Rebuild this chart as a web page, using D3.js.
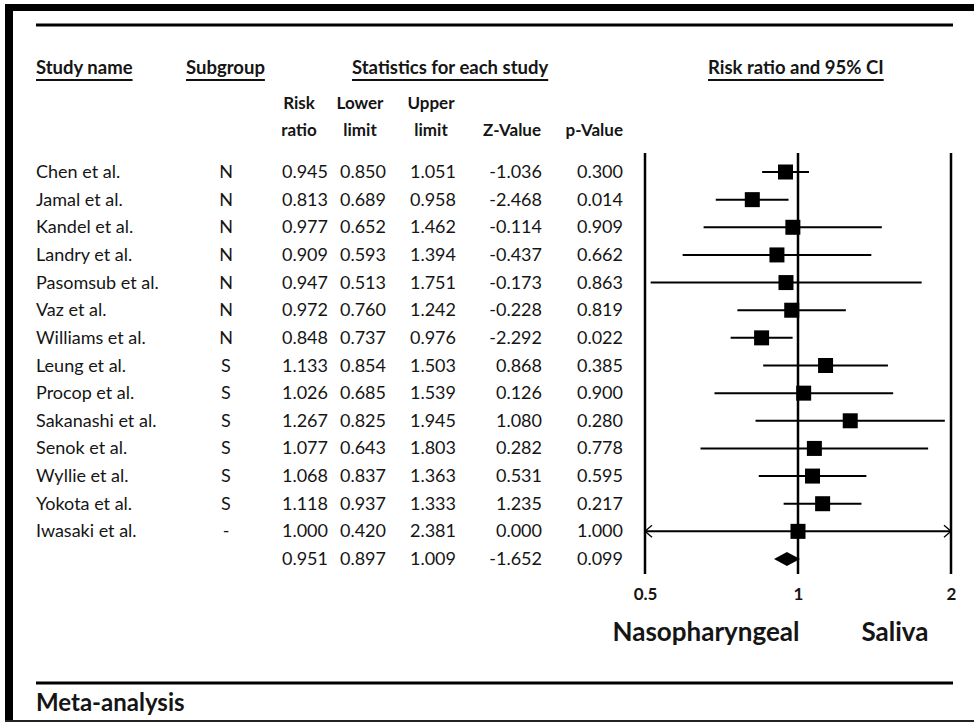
<!doctype html>
<html lang="en">
  <head>
    <meta charset="utf-8" />
    <title>Meta-analysis forest plot</title>
    <style>
      body { margin: 0; background: #fff; }
      text { font-family: Lato, "Open Sans", sans-serif; fill: #151515; }
    </style>
  </head>
  <body>
    <div id="chart"></div>
    <script src="https://d3js.org/d3.v7.min.js"></script>
    <script>
// data
var studies = ["Chen et al.", "Jamal et al.", "Kandel et al.", "Landry et al.", "Pasomsub et al.",
  "Vaz et al.", "Williams et al.", "Leung et al.", "Procop et al.", "Sakanashi et al.",
  "Senok et al.", "Wyllie et al.", "Yokota et al.", "Iwasaki et al."];
var subgroups = ["N", "N", "N", "N", "N", "N", "N", "S", "S", "S", "S", "S", "S", "-"];
var riskRatio = [0.945, 0.813, 0.977, 0.909, 0.947, 0.972, 0.848, 1.133, 1.026, 1.267, 1.077, 1.068, 1.118, 1.000];
var lowerLimit = [0.850, 0.689, 0.652, 0.593, 0.513, 0.760, 0.737, 0.854, 0.685, 0.825, 0.643, 0.837, 0.937, 0.420];
var upperLimit = [1.051, 0.958, 1.462, 1.394, 1.751, 1.242, 0.976, 1.503, 1.539, 1.945, 1.803, 1.363, 1.333, 2.381];
var zValue = [-1.036, -2.468, -0.114, -0.437, -0.173, -0.228, -2.292, 0.868, 0.126, 1.080, 0.282, 0.531, 1.235, 0.000];
var pValue = [0.300, 0.014, 0.909, 0.662, 0.863, 0.819, 0.022, 0.385, 0.900, 0.280, 0.778, 0.595, 0.217, 1.000];
// pooled estimate
var summary = {rr: 0.951, lower: 0.897, upper: 1.009, z: -1.652, p: 0.099};
var axisTicks = [0.5, 1, 2];

var width = 974, height = 723;
var svg = d3.select("#chart").append("svg")
  .attr("width", width)
  .attr("height", height);

// plain hyphen minus like the original table
var fmt = function(v) { return v.toFixed(3); };

// frame
svg.append("rect").attr("x", 5).attr("y", 4).attr("width", width - 5).attr("height", 7).attr("fill", "#000");
svg.append("rect").attr("x", 5).attr("y", 4).attr("width", 8).attr("height", 717).attr("fill", "#000");
svg.append("rect").attr("x", 5).attr("y", 720).attr("width", width - 5).attr("height", 2).attr("fill", "#222");

// horizontal rules
svg.append("line").attr("x1", 36).attr("x2", 953).attr("y1", 25).attr("y2", 25)
  .attr("stroke", "#000").attr("stroke-width", 3);
svg.append("line").attr("x1", 36).attr("x2", 953).attr("y1", 683).attr("y2", 683)
  .attr("stroke", "#000").attr("stroke-width", 3);

// scales
var x = d3.scaleLog().domain([0.5, 2]).range([645, 951]);
var y = d3.scalePoint().domain(d3.range(studies.length + 1)).range([172, 559]);

// column headers
var headers = [
  {t: "Study name", x: 36},
  {t: "Subgroup", x: 186},
  {t: "Statistics for each study", x: 352},
  {t: "Risk ratio and 95% CI", x: 708}
];
headers.forEach(function(h) {
  var t = svg.append("text")
    .attr("x", h.x).attr("y", 74)
    .attr("font-size", "18.5px").attr("font-weight", "bold")
    .text(h.t);
  var w = t.node().getComputedTextLength();
  svg.append("line").attr("x1", h.x).attr("x2", h.x + w).attr("y1", 80).attr("y2", 80)
    .attr("stroke", "#111").attr("stroke-width", 1.8);
});

// sub headers
var colRight = [328, 386, 456, 542, 623];
var subX = [299, 360, 431, 512, 623];
var subAnchor = ["middle", "middle", "middle", "middle", "end"];
var sub1 = ["Risk", "Lower", "Upper", "", ""];
var sub2 = ["ratio", "limit", "limit", "Z-Value", "p-Value"];
subX.forEach(function(cx, i) {
  svg.append("text").attr("x", cx).attr("y", 109).attr("text-anchor", subAnchor[i])
    .attr("font-size", "17px").attr("font-weight", "bold").text(sub1[i]);
  svg.append("text").attr("x", cx).attr("y", 136).attr("text-anchor", subAnchor[i])
    .attr("font-size", "17px").attr("font-weight", "bold").text(sub2[i]);
});

// table rows
var rows = studies.map(function(s, i) {
  return {name: s, sub: subgroups[i], rr: riskRatio[i], lo: lowerLimit[i], hi: upperLimit[i], z: zValue[i], p: pValue[i], i: i};
});
var summaryRow = {name: "", sub: "", rr: summary.rr, lo: summary.lower, hi: summary.upper, z: summary.z, p: summary.p, i: studies.length};
var allRows = rows.concat([summaryRow]);

var rowG = svg.selectAll(".row").data(allRows).enter().append("g")
  .attr("transform", function(d) { return "translate(0," + (y(d.i) + 6) + ")"; });

rowG.append("text").attr("x", 36).attr("font-size", "18px").text(function(d) { return d.name; });
rowG.append("text").attr("x", 226).attr("text-anchor", "middle").attr("font-size", "18px").text(function(d) { return d.sub; });
["rr", "lo", "hi", "z", "p"].forEach(function(k, j) {
  rowG.append("text").attr("x", colRight[j]).attr("text-anchor", "end").attr("font-size", "18px")
    .text(function(d) { return fmt(d[k]); });
});

// forest plot vertical lines
svg.selectAll(".vline").data(axisTicks).enter().append("line")
  .attr("x1", function(d) { return x(d); }).attr("x2", function(d) { return x(d); })
  .attr("y1", 153).attr("y2", 574)
  .attr("stroke", "#000").attr("stroke-width", 2.5);

// confidence intervals
var clampLo = function(v) { return Math.max(v, x.domain()[0]); };
var clampHi = function(v) { return Math.min(v, x.domain()[1]); };
svg.selectAll(".ci").data(rows).enter().append("line")
  .attr("x1", function(d) { return x(clampLo(d.lo)); })
  .attr("x2", function(d) { return x(clampHi(d.hi)); })
  .attr("y1", function(d) { return y(d.i); }).attr("y2", function(d) { return y(d.i); })
  .attr("stroke", "#000").attr("stroke-width", 2);

// arrows for truncated intervals
rows.forEach(function(d) {
  var yy = y(d.i);
  if (d.lo < x.domain()[0]) {
    var x0 = x(x.domain()[0]);
    svg.append("path").attr("d", "M" + (x0 + 7) + "," + (yy - 6) + "L" + x0 + "," + yy + "L" + (x0 + 7) + "," + (yy + 6))
      .attr("fill", "none").attr("stroke", "#000").attr("stroke-width", 1.3);
  }
  if (d.hi > x.domain()[1]) {
    var x1 = x(x.domain()[1]);
    svg.append("path").attr("d", "M" + (x1 - 7) + "," + (yy - 6) + "L" + x1 + "," + yy + "L" + (x1 - 7) + "," + (yy + 6))
      .attr("fill", "none").attr("stroke", "#000").attr("stroke-width", 1.3);
  }
});

// point estimates
var sq = 15;
svg.selectAll(".pt").data(rows).enter().append("rect")
  .attr("x", function(d) { return x(d.rr) - sq / 2; })
  .attr("y", function(d) { return y(d.i) - sq / 2; })
  .attr("width", sq).attr("height", sq)
  .attr("fill", "#000");

// summary diamond
var ys = y(summaryRow.i);
svg.append("path")
  .attr("d", "M" + x(summary.lower) + "," + ys + "L" + x(summary.rr) + "," + (ys - 7) +
    "L" + x(summary.upper) + "," + ys + "L" + x(summary.rr) + "," + (ys + 7) + "Z")
  .attr("fill", "#000");

// axis labels
var axis = d3.axisBottom(x).tickValues(axisTicks).tickFormat(d3.format("")).tickSize(0);
var ax = svg.append("g").attr("transform", "translate(0,585)").call(axis);
ax.select(".domain").remove();
ax.selectAll("text").attr("font-size", "17px").attr("font-weight", "bold")
  .style("font-family", "Lato, 'Open Sans', sans-serif").attr("fill", "#151515");

svg.append("text").attr("x", 706).attr("y", 641).attr("text-anchor", "middle")
  .attr("font-size", "26px").attr("font-weight", "bold").text("Nasopharyngeal");
svg.append("text").attr("x", 895).attr("y", 641).attr("text-anchor", "middle")
  .attr("font-size", "26px").attr("font-weight", "bold").text("Saliva");

svg.append("text").attr("x", 36).attr("y", 711)
  .attr("font-size", "24px").attr("font-weight", "bold").text("Meta-analysis");
    </script>
  </body>
</html>
